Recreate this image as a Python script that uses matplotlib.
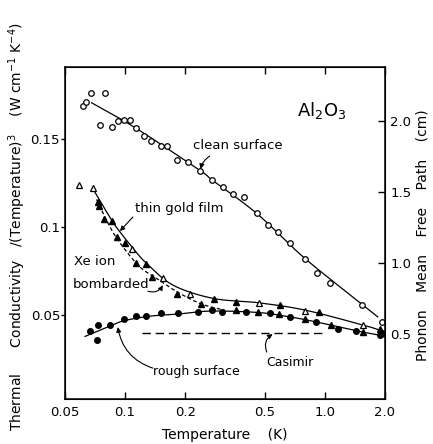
import numpy as np
import matplotlib
matplotlib.use("Agg")
import matplotlib.pyplot as plt

# clean surface (open circles)
clean_T = [0.0617, 0.0637, 0.0674, 0.0792, 0.0748, 0.0856, 0.0917, 0.0983, 0.1057, 0.1136,
           0.124, 0.135, 0.151, 0.163, 0.182, 0.207, 0.237, 0.273, 0.309, 0.347,
           0.396, 0.458, 0.520, 0.581, 0.667, 0.795, 0.917, 1.06, 1.54, 1.94]
clean_K = [0.169, 0.171, 0.176, 0.176, 0.158, 0.157, 0.160, 0.161, 0.161, 0.156,
           0.152, 0.149, 0.146, 0.146, 0.138, 0.137, 0.132, 0.127, 0.123, 0.119,
           0.117, 0.108, 0.101, 0.097, 0.091, 0.082, 0.074, 0.068, 0.056, 0.046]
clean_fit_T = [0.068, 0.1136, 0.237, 0.273, 0.458, 0.795, 1.54, 1.84]
clean_fit_K = [0.1706, 0.1561, 0.1322, 0.1267, 0.1076, 0.0822, 0.0561, 0.049]

# thin gold film (open triangles, solid line)
gold_T = [0.0587, 0.0688, 0.1078, 0.154, 0.211, 0.467, 0.80, 1.56]
gold_K = [0.1239, 0.122, 0.0877, 0.0709, 0.0619, 0.0566, 0.0524, 0.0443]
gold_fit_T = [0.0688, 0.072, 0.0856, 0.0942, 0.1098, 0.128, 0.174, 0.276, 0.467, 0.80, 1.56, 1.88]
gold_fit_K = [0.122, 0.1182, 0.104, 0.0973, 0.0879, 0.0794, 0.067, 0.0595, 0.057, 0.0528, 0.0443, 0.0415]

# Xe ion bombarded (filled triangles, dashed line)
xe_T = [0.0734, 0.0742, 0.0783, 0.0856, 0.0907, 0.0998, 0.114, 0.127, 0.1366, 0.183, 0.241,
        0.278, 0.358, 0.594, 0.934, 1.88,
        0.358, 0.463, 0.589, 0.80, 1.08, 1.56, 1.95]
xe_K = [0.1144, 0.1119, 0.1044, 0.1036, 0.0945, 0.0911, 0.0794, 0.079, 0.0718, 0.0619, 0.0563,
        0.0589, 0.0576, 0.0557, 0.0515, 0.0424,
        0.0528, 0.0515, 0.0506, 0.0476, 0.0443, 0.0405, 0.0398]
xe_fit_T = [0.072, 0.0839, 0.096, 0.1186, 0.1437, 0.183, 0.241, 0.315]
xe_fit_K = [0.1157, 0.1002, 0.0898, 0.0774, 0.0709, 0.0631, 0.0563, 0.0528]

# rough surface (filled circles)
rough_T = [0.0667, 0.0729, 0.072, 0.0837, 0.0983, 0.114, 0.127, 0.151, 0.184, 0.233,
           0.271, 0.307, 0.402, 0.53, 0.667, 0.90, 1.16, 1.44, 1.88]
rough_K = [0.0407, 0.0446, 0.0361, 0.0446, 0.0476, 0.0497, 0.0497, 0.051, 0.0511, 0.0515,
           0.0527, 0.0519, 0.0519, 0.051, 0.049, 0.0462, 0.0424, 0.0411, 0.0389]
rough_fit_T = [0.063, 0.0839, 0.0986, 0.133, 0.188, 0.269, 0.463, 0.667, 0.90, 1.44, 1.88]
rough_fit_K = [0.0379, 0.0438, 0.0468, 0.0494, 0.0507, 0.0523, 0.0515, 0.049, 0.0462, 0.0411, 0.0386]

casimir_T = [0.121, 0.97]
casimir_K = [0.040, 0.040]

x_ticks = [0.05, 0.1, 0.2, 0.5, 1.0, 2.0]
x_labels = ["0.05", "0.1", "0.2", "0.5", "1.0", "2.0"]
y_ticks = [0.05, 0.1, 0.15]
y_labels = ["0.05", "0.1", "0.15"]
r_ticks = [0.5, 1.0, 1.5, 2.0]
r_labels = ["0.5", "1.0", "1.5", "2.0"]


def smooth(xs, ys, n=20):
    # catmull-rom through the knots, in log T
    pts = np.column_stack([np.log10(xs), ys])
    pts = np.vstack([2 * pts[0] - pts[1], pts, 2 * pts[-1] - pts[-2]])
    t = np.linspace(0, 1, n, endpoint=False)[:, None]
    out = []
    for i in range(1, len(pts) - 2):
        p0, p1, p2, p3 = pts[i - 1:i + 3]
        out.append(0.5 * (2 * p1 + (-p0 + p2) * t + (2 * p0 - 5 * p1 + 4 * p2 - p3) * t ** 2
                          + (-p0 + 3 * p1 - 3 * p2 + p3) * t ** 3))
    out.append(pts[-2][None])
    out = np.vstack(out)
    return 10 ** out[:, 0], out[:, 1]


fig = plt.figure(figsize=(4.33, 4.44), dpi=100)
ax = fig.add_axes([0.150, 0.101, 0.739, 0.748])
lw = 0.9
ms = 4

ax.plot(*smooth(clean_fit_T, clean_fit_K), color="black", lw=lw)
ax.plot(*smooth(gold_fit_T, gold_fit_K), color="black", lw=lw)
ax.plot(*smooth(xe_fit_T, xe_fit_K), color="black", lw=lw, ls=(0, (3, 2)))
ax.plot(*smooth(rough_fit_T, rough_fit_K), color="black", lw=lw)
ax.plot(casimir_T, casimir_K, color="black", lw=1.0, ls=(0, (6, 3.5)))

ax.plot(clean_T, clean_K, "o", mfc="white", mec="black", mew=0.9, ms=ms)
ax.plot(gold_T, gold_K, "^", mfc="white", mec="black", mew=0.9, ms=ms + 0.5)
ax.plot(xe_T, xe_K, "^", color="black", ms=ms + 0.5)
ax.plot(rough_T, rough_K, "o", color="black", ms=ms)

ax.set_xscale("log")
ax.set_xlim(0.05, 2.0)
ax.set_ylim(0.00227, 0.1909)
ax.set_xticks(x_ticks)
ax.set_xticklabels(x_labels)
ax.minorticks_off()
ax.set_yticks(y_ticks)
ax.set_yticklabels(y_labels)
ax.tick_params(axis="x", direction="in", top=True, length=5, width=1, labelsize=9.5, pad=5)
ax.tick_params(axis="y", direction="out", length=3, width=1, labelsize=9.5, pad=0.5)
for s in ax.spines.values():
    s.set_linewidth(1.1)

ax2 = ax.twinx()
ax2.set_ylim(0.042, 2.38)
ax2.set_yticks(r_ticks)
ax2.set_yticklabels(r_labels)
ax2.tick_params(axis="y", direction="in", length=5, width=1, labelsize=9.5, pad=4)

ax.text(0.96, 0.1665, "Al$_2$O$_3$", fontsize=13, ha="center", va="center")
ax.text(0.218, 0.1466, "clean surface", fontsize=9.5, ha="left", va="center")
ax.text(0.112, 0.1108, "thin gold film", fontsize=9.5, ha="left", va="center")
ax.text(0.0555, 0.0807, "Xe ion", fontsize=9.5, ha="left", va="center")
ax.text(0.0549, 0.0676, "bombarded", fontsize=9.5, ha="left", va="center")
ax.text(0.1377, 0.0182, "rough surface", fontsize=9, ha="left", va="center")
ax.text(0.512, 0.0233, "Casimir", fontsize=9, ha="left", va="center")

arrow = dict(arrowstyle="-|>", color="black", lw=0.8, mutation_scale=7, shrinkA=0, shrinkB=0)
ax.annotate("", xy=(0.239, 0.133), xytext=(0.265, 0.1403),
            arrowprops=dict(arrow, connectionstyle="arc3,rad=0.2"))
ax.annotate("", xy=(0.0942, 0.0977), xytext=(0.1094, 0.1057),
            arrowprops=dict(arrow, connectionstyle="arc3,rad=0"))
ax.annotate("", xy=(0.1545, 0.067), xytext=(0.130, 0.0636),
            arrowprops=dict(arrow, connectionstyle="arc3,rad=0.4"))
ax.annotate("", xy=(0.092, 0.0432), xytext=(0.1377, 0.0199),
            arrowprops=dict(arrow, connectionstyle="arc3,rad=-0.3"))
ax.annotate("", xy=(0.548, 0.0392), xytext=(0.512, 0.029),
            arrowprops=dict(arrow, connectionstyle="arc3,rad=-0.4"))

fig.text(0.52, 0.02, "Temperature    (K)", fontsize=10, ha="center", va="center")
fig.text(0.040, 0.489,
         "Thermal      Conductivity   $/$(Temperature)$^3$    (W cm$^{-1}$ K$^{-4}$)",
         fontsize=10, rotation=90, ha="center", va="center")
fig.text(0.975, 0.47, "Phonon    Mean    Free    Path    (cm)", fontsize=10,
         rotation=90, ha="center", va="center")

fig.savefig("out.png", dpi=100)
